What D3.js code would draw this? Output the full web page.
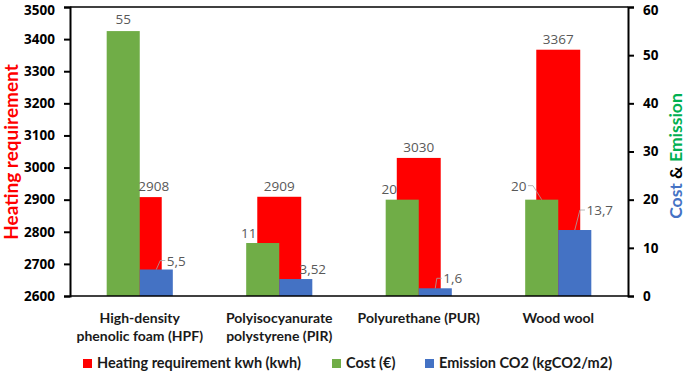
<!DOCTYPE html>
<html>
<head>
<meta charset="utf-8">
<script src="https://cdn.jsdelivr.net/npm/d3@7"></script>
<style>
  body { margin: 0; background: #fff; }
  text { font-family: Lato, "Open Sans", sans-serif; }
</style>
</head>
<body>
<div id="chart"></div>
<script>
// data
const categories = [
  ["High-density", "phenolic foam (HPF)"],
  ["Polyisocyanurate", "polystyrene (PIR)"],
  ["Polyurethane (PUR)"],
  ["Wood wool"]
];
const heating = [2908, 2909, 3030, 3367];
const cost = [55, 11, 20, 20];
const emission = [5.5, 3.52, 1.6, 13.7];
const leftTicks = [2600, 2700, 2800, 2900, 3000, 3100, 3200, 3300, 3400, 3500];
const rightTicks = [0, 10, 20, 30, 40, 50, 60];
const seriesNames = ["Heating requirement kwh (kwh)", "Cost (€)", "Emission CO2 (kgCO2/m2)"];

const colors = { heating: "#ff0000", cost: "#70ad47", emission: "#4472c4" };
const numFont = "'Open Sans', sans-serif";

// label nudges (dx from bar centre, dy from bar top to baseline, draw leader line?)
const heatLabelNudge = [[14, -6], [0, -6], [0, -6], [0, -6]];
const costLabelNudge = [[0, -7, false], [-14, -5, false], [-13, -6, false], [-23, -9, true]];
const emisLabelNudge = [[20, -4, true], [17, -5, false], [17.5, -5, true], [25, -15, true]];
const legendX = [83, 332, 425];

const width = 685;
const height = 372;
const margin = { top: 7, right: 57, bottom: 76, left: 70 };

const svg = d3.select("#chart")
  .append("svg")
  .attr("width", width)
  .attr("height", height);

const x = d3.scaleBand()
  .domain(d3.range(categories.length))
  .range([margin.left, width - margin.right]);

const yLeft = d3.scaleLinear()
  .domain([2600, 3500])
  .range([height - margin.bottom, margin.top]);

const yRight = d3.scaleLinear()
  .domain([0, 60])
  .range([height - margin.bottom, margin.top]);

const redW = x.bandwidth() * 0.315;
const sub = d3.scaleBand()
  .domain(["cost", "emission"])
  .range([-x.bandwidth() * 0.237, x.bandwidth() * 0.237]);

const cx = i => x(i) + x.bandwidth() / 2;

// heating bars (primary axis), drawn behind
svg.selectAll(".heat")
  .data(heating)
  .enter()
  .append("rect")
  .attr("class", "heat")
  .attr("x", (d, i) => cx(i) - redW / 2)
  .attr("y", d => yLeft(d))
  .attr("width", redW)
  .attr("height", d => yLeft(2600) - yLeft(d))
  .attr("fill", colors.heating);

// cost & emission bars (secondary axis)
svg.selectAll(".cost")
  .data(cost)
  .enter()
  .append("rect")
  .attr("class", "cost")
  .attr("x", (d, i) => cx(i) + sub("cost"))
  .attr("y", d => yRight(d))
  .attr("width", sub.bandwidth())
  .attr("height", d => yRight(0) - yRight(d))
  .attr("fill", colors.cost);

svg.selectAll(".emis")
  .data(emission)
  .enter()
  .append("rect")
  .attr("class", "emis")
  .attr("x", (d, i) => cx(i) + sub("emission"))
  .attr("y", d => yRight(d))
  .attr("width", sub.bandwidth())
  .attr("height", d => yRight(0) - yRight(d))
  .attr("fill", colors.emission);

// plot frame: top line and bottom line
svg.append("line")
  .attr("x1", margin.left).attr("x2", width - margin.right)
  .attr("y1", margin.top).attr("y2", margin.top)
  .attr("stroke", "#000").attr("stroke-width", 1.5);
svg.append("line")
  .attr("x1", margin.left).attr("x2", width - margin.right)
  .attr("y1", yLeft(2600)).attr("y2", yLeft(2600))
  .attr("stroke", "#000").attr("stroke-width", 1.5);

// axes
const yAxisL = svg.append("g")
  .attr("transform", `translate(${margin.left},0)`)
  .call(d3.axisLeft(yLeft).tickValues(leftTicks).tickSize(6).tickPadding(9).tickFormat(d3.format("d")));
const yAxisR = svg.append("g")
  .attr("transform", `translate(${width - margin.right},0)`)
  .call(d3.axisRight(yRight).tickValues(rightTicks).tickSize(6).tickPadding(9));
[yAxisL, yAxisR].forEach(g => {
  g.select(".domain").attr("stroke", "#000").attr("stroke-width", 2);
  g.selectAll(".tick line").attr("stroke", "#000").attr("stroke-width", 2);
  g.selectAll(".tick text")
    .attr("fill", "#000")
    .style("font-family", numFont)
    .style("font-size", "13.5px")
    .style("font-weight", "bold");
  // keep the topmost label inside the picture
  g.selectAll(".tick text").filter((d, i, n) => i === n.length - 1).attr("dy", "0.55em");
});

// category labels
const catG = svg.selectAll(".cat")
  .data(categories)
  .enter()
  .append("text")
  .attr("class", "cat")
  .attr("x", (d, i) => cx(i))
  .attr("y", 323)
  .attr("text-anchor", "middle")
  .attr("fill", "#1a1a1a")
  .style("font-size", "14px")
  .style("font-weight", "bold");
catG.selectAll("tspan")
  .data(d => d)
  .enter()
  .append("tspan")
  .attr("x", function () { return this.parentNode.getAttribute("x"); })
  .attr("dy", (d, j) => j === 0 ? 0 : 18)
  .text(d => d);

// data labels with optional leader lines
function addLabels(values, yScale, offsetX, nudges, fmt) {
  values.forEach((v, i) => {
    const bx = cx(i) + offsetX;
    const top = yScale(v);
    const [dx, dy, leader] = nudges[i];
    const t = svg.append("text")
      .attr("x", bx + dx)
      .attr("y", top + dy)
      .attr("text-anchor", "middle")
      .attr("fill", "#595959")
      .style("font-family", numFont)
      .style("font-size", "13.5px")
      .text(fmt(v));
    if (leader) {
      const w = t.node().getComputedTextLength();
      const midY = top + dy - 5;
      const side = dx > 0 ? -1 : 1;
      const edge = bx + dx + side * (w / 2 + 1.5);
      svg.append("path")
        .attr("d", `M${edge},${midY}H${edge + side * 5}L${bx},${top}`)
        .attr("fill", "none")
        .attr("stroke", "#a6a6a6")
        .attr("stroke-width", 0.8);
    }
  });
}
const comma = v => String(v).replace(".", ",");
addLabels(heating, yLeft, 0, heatLabelNudge, comma);
addLabels(cost, yRight, sub("cost") + sub.bandwidth() / 2, costLabelNudge, comma);
addLabels(emission, yRight, sub("emission") + sub.bandwidth() / 2, emisLabelNudge, comma);

// axis titles
svg.append("text")
  .attr("transform", "translate(18,152) rotate(-90)")
  .attr("text-anchor", "middle")
  .attr("fill", "#ff0000")
  .style("font-size", "19px")
  .style("font-weight", "bold")
  .text("Heating requirement");

const rt = svg.append("text")
  .attr("transform", "translate(682,156) rotate(-90)")
  .attr("text-anchor", "middle")
  .style("font-size", "17.5px")
  .style("font-weight", "bold");
rt.append("tspan").attr("fill", "#4472c4").text("Cost ");
rt.append("tspan").attr("fill", "#000").text("& ");
rt.append("tspan").attr("fill", "#00b050").text("Emission");

// legend
const legendColors = [colors.heating, colors.cost, colors.emission];
seriesNames.forEach((name, i) => {
  svg.append("rect")
    .attr("x", legendX[i]).attr("y", 359)
    .attr("width", 9).attr("height", 9)
    .attr("fill", legendColors[i]);
  svg.append("text")
    .attr("x", legendX[i] + 14).attr("y", 368)
    .attr("fill", "#1a1a1a")
    .style("font-size", "14.5px")
    .style("font-weight", "bold")
    .text(name);
});
</script>
</body>
</html>
